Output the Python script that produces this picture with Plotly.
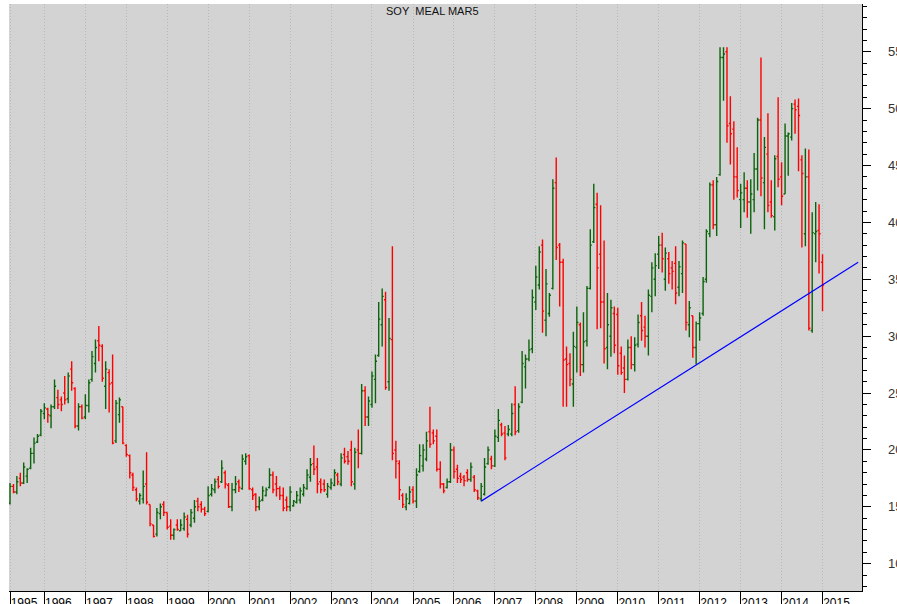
import pandas as pd
import plotly.graph_objects as go

TITLE = 'SOY\u00a0 MEAL MAR5'
FIRST_MONTH = '1995-03-01'

# monthly bars, Mar 1995 .. Jan 2015 (one row per calendar year)
opens = [
    153, 168, 163, 175, 171, 177, 184, 197, 207, 213,
    232, 236, 230, 238, 246, 244, 250, 245, 271, 254, 221, 238,
    229, 239, 262, 276, 296, 291, 256, 268, 259, 208, 231, 238,
    204, 195, 178, 165, 155, 157, 170, 152, 134, 126, 144, 152,
    145, 133, 125, 134, 129, 131, 139, 134, 140, 155, 152, 148,
    146, 161, 165, 174, 172, 180, 169, 150, 165, 172, 166, 190,
    195, 165, 161, 150, 156, 160, 167, 178, 170, 166, 160, 156,
    150, 151, 154, 156, 161, 166, 176, 188, 185, 172, 170, 161,
    167, 169, 178, 170, 196, 194, 200, 170, 200, 197, 252, 229,
    240, 262, 283, 310, 332, 260, 297, 200, 188, 160, 150, 153,
    165, 155, 181, 186, 192, 216, 215, 212, 183, 170, 167, 172,
    200, 183, 177, 176, 180, 174, 176, 164, 157, 161, 188, 192,
    186, 211, 222, 215, 214, 214, 240, 217, 242, 273, 280, 289,
    330, 345, 380, 314, 320, 342, 435, 380, 365, 280, 276, 258,
    290, 310, 275, 296, 342, 383, 416, 372, 330, 290, 300, 320,
    319, 285, 272, 262, 290, 275, 293, 318, 308, 300, 335, 350,
    372, 380, 350, 368, 360, 364, 343, 355, 381, 310, 318, 290,
    311, 320, 350, 390, 433, 398, 442, 545, 550, 487, 482, 440,
    420, 420, 430, 418, 420, 447, 490, 435, 460, 418, 405, 458,
    440, 425, 476, 475, 504, 502, 455, 390, 440, 305, 390, 393,
    365,
]
highs = [
    171, 170, 177, 180, 189, 184, 202, 211, 214, 236,
    241, 237, 240, 262, 253, 247, 265, 268, 278, 255, 241, 240,
    249, 262, 287, 297, 309, 293, 278, 271, 284, 244, 246, 238,
    205, 196, 180, 167, 162, 182, 198, 152, 134, 149, 153, 155,
    145, 139, 131, 139, 139, 145, 143, 148, 156, 158, 155, 150,
    168, 170, 175, 177, 191, 182, 171, 171, 177, 174, 196, 197,
    196, 167, 162, 159, 168, 167, 184, 181, 177, 168, 167, 159,
    168, 156, 164, 167, 170, 183, 193, 204, 193, 175, 174, 171,
    175, 183, 180, 197, 202, 199, 208, 202, 218, 258, 256, 247,
    269, 284, 330, 342, 339, 316, 379, 208, 191, 162, 162, 168,
    168, 184, 205, 205, 216, 238, 218, 218, 190, 171, 175, 206,
    203, 187, 180, 178, 183, 189, 178, 165, 171, 193, 203, 195,
    218, 236, 224, 221, 222, 241, 256, 241, 287, 284, 297, 341,
    362, 379, 385, 359, 338, 438, 457, 382, 368, 291, 285, 304,
    326, 312, 321, 344, 394, 434, 426, 415, 384, 338, 332, 326,
    325, 291, 283, 297, 300, 299, 319, 330, 318, 341, 365, 373,
    388, 391, 378, 374, 366, 379, 366, 384, 381, 331, 318, 313,
    321, 352, 394, 435, 437, 440, 554, 554, 554, 511, 489, 466,
    434, 444, 437, 438, 461, 492, 545, 475, 496, 437, 459, 510,
    453, 487, 479, 505, 508, 509, 459, 465, 464, 409, 418, 416,
    372,
]
lows = [
    152, 162, 161, 168, 170, 171, 183, 188, 206, 212,
    227, 224, 219, 236, 236, 234, 240, 241, 252, 219, 217, 227,
    227, 233, 260, 268, 278, 260, 236, 233, 205, 206, 224, 205,
    194, 175, 164, 155, 152, 153, 152, 133, 123, 124, 139, 142,
    130, 121, 121, 129, 129, 129, 123, 132, 136, 146, 145, 142,
    145, 159, 162, 166, 171, 166, 149, 146, 162, 163, 165, 187,
    165, 156, 146, 147, 155, 159, 166, 162, 159, 156, 146, 146,
    146, 150, 153, 153, 159, 165, 172, 178, 162, 162, 163, 158,
    165, 168, 169, 168, 188, 187, 168, 165, 184, 196, 221, 221,
    237, 241, 282, 291, 253, 252, 191, 175, 156, 149, 147, 152,
    153, 149, 180, 181, 190, 202, 205, 181, 166, 162, 166, 171,
    175, 171, 171, 168, 172, 172, 163, 156, 155, 160, 187, 183,
    185, 207, 212, 191, 212, 212, 213, 215, 241, 254, 278, 285,
    323, 341, 303, 300, 317, 341, 367, 326, 238, 238, 256, 238,
    268, 265, 268, 291, 341, 382, 306, 307, 276, 271, 282, 285,
    266, 266, 250, 261, 271, 269, 290, 296, 290, 283, 321, 335,
    359, 356, 340, 346, 341, 328, 335, 338, 305, 299, 281, 275,
    296, 318, 347, 387, 394, 388, 441, 507, 470, 451, 420, 422,
    395, 409, 404, 390, 409, 428, 423, 394, 409, 404, 393, 431,
    415, 425, 441, 472, 478, 445, 378, 379, 305, 303, 365, 355,
    322,
]
closes = [
    168, 163, 172, 171, 185, 183, 197, 206, 212, 234,
    237, 231, 238, 256, 240, 240, 244, 265, 259, 221, 238, 228,
    239, 259, 282, 290, 292, 263, 271, 258, 206, 241, 244, 206,
    196, 180, 167, 157, 160, 168, 154, 135, 124, 145, 150, 145,
    132, 125, 130, 130, 134, 141, 126, 145, 150, 150, 148, 144,
    160, 166, 172, 168, 184, 170, 150, 165, 170, 167, 192, 194,
    166, 160, 150, 155, 164, 165, 178, 165, 166, 160, 149, 150,
    163, 155, 160, 164, 167, 178, 187, 183, 170, 165, 165, 168,
    171, 180, 172, 193, 190, 190, 172, 198, 197, 252, 229, 243,
    265, 278, 315, 335, 255, 298, 197, 190, 165, 152, 157, 163,
    155, 178, 195, 200, 208, 205, 208, 183, 170, 164, 172, 200,
    181, 175, 174, 173, 174, 185, 165, 158, 168, 185, 200, 186,
    212, 226, 214, 193, 218, 232, 216, 238, 276, 280, 288, 334,
    352, 374, 322, 346, 336, 430, 378, 365, 279, 275, 262, 291,
    312, 275, 295, 342, 380, 413, 360, 330, 289, 310, 325, 292,
    274, 268, 262, 290, 275, 292, 312, 305, 300, 336, 360, 362,
    380, 368, 373, 355, 357, 338, 361, 382, 312, 325, 290, 311,
    316, 348, 392, 433, 398, 436, 545, 548, 485, 478, 440, 428,
    426, 430, 418, 425, 447, 490, 439, 466, 415, 406, 456, 438,
    423, 476, 478, 500, 499, 494, 443, 440, 307, 391, 392, 390,
    345,
]

# support line drawn on the chart
trend_dates = ['2006-09-01', '2015-11-15']
trend_values = [155, 365]

years = [str(y) for y in range(1995, 2016)]
price_ticks = [100, 150, 200, 250, 300, 350, 400, 450, 500, 550]


def build_figure() -> go.Figure:
    months = pd.date_range(FIRST_MONTH, periods=len(opens), freq='MS')
    figure = go.Figure()
    figure.add_trace(
        go.Ohlc(
            x=months,
            open=opens,
            high=highs,
            low=lows,
            close=closes,
            tickwidth=0.5,
            increasing={'line': {'color': '#0b640b', 'width': 1.4}},
            decreasing={'line': {'color': '#ff0000', 'width': 1.4}},
            hoverinfo='skip',
        )
    )
    figure.add_trace(
        go.Scatter(
            x=trend_dates,
            y=trend_values,
            mode='lines',
            line={'color': '#0000ff', 'width': 1.2},
            hoverinfo='skip',
        )
    )
    tick_dates = [FIRST_MONTH] + [f'{y}-01-01' for y in years[1:]]

    # price labels sit past the right edge of the page, as in the original
    annotations = [{
        'text': TITLE,
        'xref': 'paper',
        'yref': 'paper',
        'x': 0.497,
        'y': 0.988,
        'yanchor': 'middle',
        'showarrow': False,
        'font': {'size': 11, 'color': '#111'},
    }]
    for value in price_ticks:
        annotations.append({
            'text': str(value),
            'xref': 'paper',
            'yref': 'y',
            'x': 1.0281,
            'y': value,
            'xanchor': 'left',
            'yanchor': 'middle',
            'showarrow': False,
            'font': {'size': 13, 'color': '#333'},
        })

    figure.update_layout(
        width=897,
        height=604,
        margin={'l': 9, 'r': 35, 't': 4, 'b': 13},
        paper_bgcolor='white',
        plot_bgcolor='#d3d3d3',
        showlegend=False,
        font={'family': 'Arial, Liberation Sans, sans-serif', 'size': 12, 'color': 'black'},
        annotations=annotations,
        xaxis={
            'type': 'date',
            'range': ['1995-02-20', '2015-12-19'],
            'rangeslider': {'visible': False},
            'automargin': False,
            'tickvals': tick_dates,
            'ticktext': years,
            'ticks': 'outside',
            'ticklen': 14,
            'tickcolor': 'black',
            'tickwidth': 1,
            'ticklabelstandoff': -13,
            'ticklabelshift': 14,
            'ticklabeloverflow': 'allow',
            'showline': True,
            'linecolor': 'black',
            'linewidth': 1,
            'showgrid': True,
            'gridcolor': '#b8b8b8',
            'griddash': '1px,2px',
            'zeroline': False,
        },
        yaxis={
            'side': 'right',
            'range': [76, 592],
            'automargin': False,
            'tickvals': price_ticks,
            'showticklabels': False,
            'ticks': 'outside',
            'ticklen': 8,
            'tickcolor': 'black',
            'showline': True,
            'linecolor': 'black',
            'linewidth': 1,
            'showgrid': False,
            'zeroline': False,
            'minor': {'dtick': 10, 'tick0': 0, 'ticks': 'outside', 'ticklen': 4, 'tickcolor': 'black'},
        },
    )
    return figure


fig = build_figure()
# the page's default body margin would shift the chart by 8px
fig.write_html(
    'out.html',
    config={'displayModeBar': False},
    post_script="document.body.style.margin = '0';",
)
